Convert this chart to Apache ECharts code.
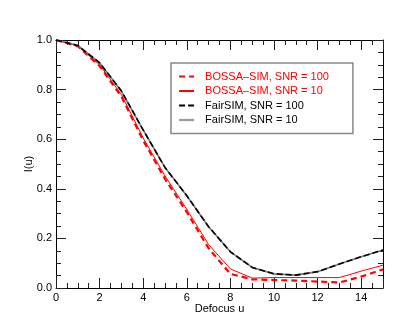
<!DOCTYPE html>
<html>
<head>
<meta charset="utf-8">
<script src="https://cdn.jsdelivr.net/npm/echarts@6/dist/echarts.min.js"></script>
<style>
  html, body { margin: 0; padding: 0; background: #fff; }
  #chart { width: 415px; height: 332px; }
</style>
</head>
<body>
<div id="chart"></div>
<script>
// defocus values (x)
var defocus = [0, 1, 2, 3, 4, 5, 6, 7, 8, 9, 10, 11, 12, 13, 14, 15];
// I(u)
var bossa100 = [1.0, 0.975, 0.895, 0.772, 0.595, 0.440, 0.306, 0.160, 0.057, 0.035, 0.032, 0.030, 0.026, 0.022, 0.046, 0.075];
var bossa10 = [1.0, 0.976, 0.900, 0.780, 0.605, 0.452, 0.317, 0.175, 0.077, 0.040, 0.042, 0.042, 0.042, 0.042, 0.068, 0.092];
var fair100 = [1.0, 0.978, 0.908, 0.794, 0.637, 0.486, 0.372, 0.247, 0.146, 0.083, 0.057, 0.052, 0.066, 0.097, 0.126, 0.153];
var fair10 = [1.0, 0.978, 0.908, 0.794, 0.637, 0.486, 0.372, 0.247, 0.146, 0.083, 0.057, 0.052, 0.066, 0.097, 0.126, 0.153];

function pairs(ys) {
  var out = [];
  for (var i = 0; i < defocus.length; i++) out.push([defocus[i], ys[i]]);
  return out;
}

var font = 'Liberation Sans, Arial, sans-serif';
var axisCol = '#000';

// shared look for all four frame sides
function frameAxis(extra) {
  var a = {
    axisLine: { show: true, onZero: false, lineStyle: { color: axisCol, width: 1 } },
    axisTick: { show: true, inside: true, length: 10, lineStyle: { color: '#222', width: 1 } },
    minorTick: { show: true, splitNumber: 4, length: 5, lineStyle: { color: '#222', width: 1 } },
    splitLine: { show: false },
    minorSplitLine: { show: false }
  };
  for (var k in extra) a[k] = extra[k];
  return a;
}

var myChart = echarts.init(document.getElementById('chart'));
var option = {
  animation: false,
  backgroundColor: '#fff',
  grid: { left: 56, right: 32, top: 40, bottom: 44 },
  legend: {
    orient: 'vertical',
    left: 171,
    top: 63,
    padding: [8, 24, 8, 7],
    itemGap: 3.5,
    itemWidth: 15,
    itemHeight: 12,
    borderColor: '#888',
    borderWidth: 1.5,
    backgroundColor: '#fff',
    itemStyle: { opacity: 0 },
    textStyle: { fontFamily: font, fontSize: 11, color: '#000', padding: [0, 0, 0, 6] },
    data: [
      { name: 'BOSSA–SIM, SNR = 100', textStyle: { color: '#ff0000' } },
      { name: 'BOSSA–SIM, SNR = 10', textStyle: { color: '#ff0000' } },
      { name: 'FairSIM, SNR = 100' },
      { name: 'FairSIM, SNR = 10', lineStyle: { width: 2.2, color: '#999' } }
    ]
  },
  xAxis: [
    frameAxis({
      type: 'value', position: 'bottom', min: 0, max: 15, interval: 2,
      name: 'Defocus u', nameLocation: 'middle', nameGap: 15, nameMoveOverlap: false,
      nameTextStyle: { fontFamily: font, fontSize: 11, color: '#000' },
      axisLabel: { fontFamily: font, fontSize: 11, color: '#000', margin: 4, showMaxLabel: false }
    }),
    frameAxis({
      type: 'value', position: 'top', min: 0, max: 15, interval: 2,
      axisLabel: { show: false }
    })
  ],
  yAxis: [
    frameAxis({
      type: 'value', position: 'left', min: 0, max: 1, interval: 0.2,
      name: 'I(u)', nameLocation: 'middle', nameGap: 22, nameMoveOverlap: false,
      nameTextStyle: { fontFamily: font, fontSize: 11, color: '#000' },
      axisLabel: { fontFamily: font, fontSize: 11, color: '#000', margin: 4,
        formatter: function (v) { return v.toFixed(1); } }
    }),
    frameAxis({
      type: 'value', position: 'right', min: 0, max: 1, interval: 0.2,
      axisLabel: { show: false }
    })
  ],
  series: [
    {
      name: 'BOSSA–SIM, SNR = 100', type: 'line', showSymbol: false, symbol: 'none',
      data: pairs(bossa100), z: 2,
      lineStyle: { color: '#ff0000', width: 2.2, type: [6, 4] },
      itemStyle: { color: '#ff0000' }
    },
    {
      name: 'BOSSA–SIM, SNR = 10', type: 'line', showSymbol: false, symbol: 'none',
      data: pairs(bossa10), z: 2,
      lineStyle: { color: '#ff0000', width: 1 },
      itemStyle: { color: '#ff0000' }
    },
    {
      name: 'FairSIM, SNR = 100', type: 'line', showSymbol: false, symbol: 'none',
      data: pairs(fair100), z: 4,
      lineStyle: { color: '#000', width: 1.6, type: [6, 3] },
      itemStyle: { color: '#000' }
    },
    {
      name: 'FairSIM, SNR = 10', type: 'line', showSymbol: false, symbol: 'none',
      data: pairs(fair10), z: 3,
      lineStyle: { color: '#777', width: 1.6 },
      itemStyle: { color: '#777' }
    }
  ]
};
window.onresize = myChart.resize;
myChart.setOption(option);
</script>
</body>
</html>
